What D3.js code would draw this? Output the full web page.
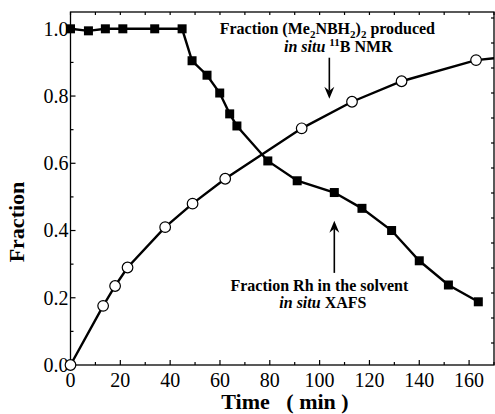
<!DOCTYPE html>
<meta charset="utf-8">
<style>
body { margin: 0; background: #fff; }
svg text { font-family: "Liberation Serif", "Times New Roman", serif; fill: #000; }
.tick-label { font-size: 20px; }
.title { font-size: 22px; font-weight: bold; }
.note { font-size: 16px; font-weight: bold; }
</style>
<body>
<div id="chart"></div>
<script src="https://d3js.org/d3.v7.min.js"></script>
<script>

// Fraction Rh in the solvent (in situ XAFS)
var rhTime = [0, 7.2, 14, 21, 33.8, 44.8, 48.8, 54.8, 59.9, 63.9, 66.8, 79.2, 91, 105.9, 117, 128.9, 140, 151.7, 163.7];
var rhFrac = [1.0, 0.994, 1.0, 1.0, 1.0, 1.0, 0.905, 0.862, 0.809, 0.747, 0.711, 0.607, 0.548, 0.513, 0.466, 0.40, 0.31, 0.238, 0.188];

// Fraction (Me2NBH2)2 produced (in situ 11B NMR)
var nmrTime = [0, 13.1, 17.9, 22.9, 38, 49, 62.1, 92.8, 113, 132.9, 162.8, 180];
var nmrFrac = [0, 0.176, 0.235, 0.29, 0.41, 0.48, 0.554, 0.704, 0.783, 0.844, 0.907, 0.92];
var nmrShown = 11; // last value only carries the line on past the frame

var xTicks = [0, 20, 40, 60, 80, 100, 120, 140, 160];
var yTicks = [0.0, 0.2, 0.4, 0.6, 0.8, 1.0];

var width = 495, height = 414;
var margin = { top: 12, right: 1, bottom: 49, left: 70.5 };

var svg = d3.select('#chart').append('svg')
  .attr('width', width)
  .attr('height', height);

var x = d3.scaleLinear().domain([0, 170]).range([margin.left, width - margin.right]);
var y = d3.scaleLinear().domain([0, 1.05]).range([height - margin.bottom, margin.top]);
// the right edge carries its own evenly spaced ticks
var yRight = d3.scaleLinear().domain([-0.88, 13.24]).range([height - margin.bottom, margin.top]);

svg.append('defs').append('clipPath').attr('id', 'plot')
  .append('rect')
  .attr('x', margin.left).attr('y', margin.top)
  .attr('width', width - margin.left - margin.right)
  .attr('height', height - margin.top - margin.bottom);

// ticks, all pointing into the frame
var g = svg.append('g').attr('stroke', '#000').attr('stroke-width', 1.2);
d3.range(0, 171, 10).forEach(function (t) {
  var len = t % 20 === 0 ? 5 : 3;
  g.append('line').attr('x1', x(t)).attr('x2', x(t)).attr('y1', y(0)).attr('y2', y(0) - len);
  g.append('line').attr('x1', x(t)).attr('x2', x(t)).attr('y1', y(1.05)).attr('y2', y(1.05) + 3);
});
d3.range(0, 11).forEach(function (i) {
  var len = i % 2 === 0 ? 5 : 3;
  g.append('line').attr('x1', x(0)).attr('x2', x(0) + len).attr('y1', y(i / 10)).attr('y2', y(i / 10));
});
d3.range(0, 14).forEach(function (v) {
  g.append('line').attr('x1', x(170)).attr('x2', x(170) - 3).attr('y1', yRight(v)).attr('y2', yRight(v));
});

// frame
svg.append('rect')
  .attr('x', x(0)).attr('y', y(1.05))
  .attr('width', x(170) - x(0)).attr('height', y(0) - y(1.05))
  .attr('fill', 'none').attr('stroke', '#000').attr('stroke-width', 1.3);

svg.selectAll('.xl').data(xTicks).enter().append('text')
  .attr('class', 'tick-label')
  .attr('x', function (d) { return x(d); })
  .attr('y', 387)
  .attr('text-anchor', 'middle')
  .text(function (d) { return d; });

svg.selectAll('.yl').data(yTicks).enter().append('text')
  .attr('class', 'tick-label')
  .attr('x', x(0) - 2)
  .attr('y', function (d) { return y(d); })
  .attr('dy', '0.34em')
  .attr('text-anchor', 'end')
  .text(function (d) { return d.toFixed(1); });

svg.append('text').attr('class', 'title')
  .attr('x', 285).attr('y', 409)
  .attr('text-anchor', 'middle')
  .attr('xml:space', 'preserve')
  .text('Time   ( min )');

svg.append('text').attr('class', 'title')
  .attr('transform', 'translate(24,' + 222 + ') rotate(-90)')
  .attr('text-anchor', 'middle')
  .text('Fraction');

// series
var line = d3.line()
  .x(function (d) { return x(d[0]); })
  .y(function (d) { return y(d[1]); });

var rh = d3.zip(rhTime, rhFrac);
var nmr = d3.zip(nmrTime, nmrFrac);

svg.append('path').datum(nmr)
  .attr('clip-path', 'url(#plot)')
  .attr('d', line)
  .attr('fill', 'none').attr('stroke', '#000').attr('stroke-width', 2.4);

svg.append('path').datum(rh)
  .attr('d', line)
  .attr('fill', 'none').attr('stroke', '#000').attr('stroke-width', 2.4);

svg.selectAll('.sq').data(rh).enter().append('rect')
  .attr('x', function (d) { return x(d[0]) - 4.5; })
  .attr('y', function (d) { return y(d[1]) - 4.5; })
  .attr('width', 9).attr('height', 9)
  .attr('fill', '#000');

svg.selectAll('.ci').data(nmr.slice(0, nmrShown)).enter().append('circle')
  .attr('cx', function (d) { return x(d[0]); })
  .attr('cy', function (d) { return y(d[1]); })
  .attr('r', 5.3)
  .attr('fill', '#fff').attr('stroke', '#000').attr('stroke-width', 1.2);

// annotations
function arrow(t, from, to) {
  var x0 = x(t), y0 = y(from), y1 = y(to);
  var dir = y1 > y0 ? 1 : -1;
  svg.append('line')
    .attr('x1', x0).attr('x2', x0)
    .attr('y1', y0).attr('y2', y1 - dir * 8)
    .attr('stroke', '#000').attr('stroke-width', 1.6);
  svg.append('path')
    .attr('d', 'M' + (x0 - 5) + ',' + (y1 - dir * 12) + 'L' + x0 + ',' + y1 +
      'L' + (x0 + 5) + ',' + (y1 - dir * 12) + 'L' + x0 + ',' + (y1 - dir * 8) + 'Z')
    .attr('fill', '#000');
}

var n1 = svg.append('text').attr('class', 'note')
  .attr('x', x(103.1)).attr('y', y(0.985)).attr('text-anchor', 'middle');
n1.append('tspan').text('Fraction (Me');
n1.append('tspan').attr('font-size', 11).attr('dy', 4).text('2');
n1.append('tspan').attr('dy', -4).text('NBH');
n1.append('tspan').attr('font-size', 11).attr('dy', 4).text('2');
n1.append('tspan').attr('dy', -4).text(')');
n1.append('tspan').attr('font-size', 11).attr('dy', 4).text('2');
n1.append('tspan').attr('dy', -4).text(' produced');

var n2 = svg.append('text').attr('class', 'note')
  .attr('x', x(107.5)).attr('y', y(0.932)).attr('text-anchor', 'middle');
n2.append('tspan').attr('font-style', 'italic').text('in situ ');
n2.append('tspan').attr('font-size', 11).attr('dy', -6).text('11');
n2.append('tspan').attr('dy', 6).text('B NMR');

arrow(103.9, 0.914, 0.792);

svg.append('text').attr('class', 'note')
  .attr('x', x(99.9)).attr('y', y(0.22)).attr('text-anchor', 'middle')
  .text('Fraction Rh in the solvent');

var n4 = svg.append('text').attr('class', 'note')
  .attr('x', x(101.3)).attr('y', y(0.17)).attr('text-anchor', 'middle');
n4.append('tspan').attr('font-style', 'italic').text('in situ ');
n4.append('tspan').text('XAFS');

arrow(105.9, 0.274, 0.429);

</script>
</body>
